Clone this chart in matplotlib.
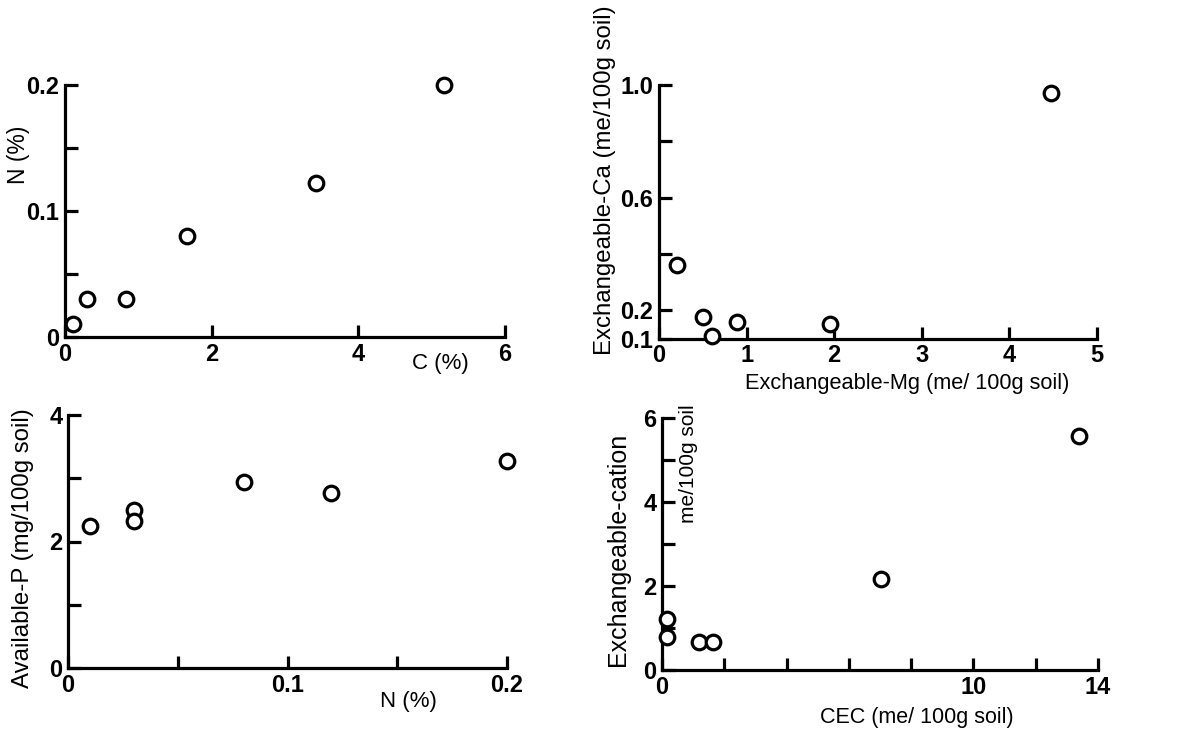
import matplotlib
matplotlib.use("Agg")
import matplotlib.pyplot as plt

plt.rcParams['font.family'] = ['Liberation Sans', 'DejaVu Sans']

# soil samples
c_pct = [0.11, 0.30, 0.83, 1.66, 3.42, 5.17]
n_pct = [0.01, 0.03, 0.03, 0.08, 0.122, 0.20]

exch_mg = [0.21, 0.50, 0.61, 0.89, 1.95, 4.48]
exch_ca = [0.36, 0.177, 0.109, 0.16, 0.151, 0.973]

n_for_p = [0.01, 0.03, 0.03, 0.08, 0.12, 0.20]
avail_p = [2.25, 2.50, 2.33, 2.94, 2.76, 3.27]

cec = [0.16, 0.16, 1.2, 1.63, 7.02, 13.38]
exch_cation = [1.21, 0.79, 0.67, 0.67, 2.16, 5.58]

W, H = 1193, 733
fig = plt.figure(figsize=(W / 100, H / 100), dpi=100)

FS = 17


def rect(left, right, top, bottom):
    return [left / W, 1 - bottom / H, (right - left) / W, (bottom - top) / H]


def label(x, y, s, rot=0, size=FS):
    fig.text(x / W, 1 - y / H, s, rotation=rot, ha='center', va='center', fontsize=size)


def panel(r, x, y, xlim, ylim, xticks, xlabels, yticks, ylabels):
    ax = fig.add_axes(r)
    ax.plot(x, y, 'o', ms=10.5, mfc='white', mec='black', mew=2.3, clip_on=False, zorder=5)
    ax.set_xlim(xlim)
    ax.set_ylim(ylim)
    ax.spines[['top', 'right']].set_visible(False)
    for s in ['left', 'bottom']:
        ax.spines[s].set_linewidth(2.3)
    ax.set_xticks(xticks)
    ax.set_xticklabels(xlabels, fontweight='bold')
    ax.set_yticks(yticks)
    ax.set_yticklabels(ylabels, fontweight='bold')
    ax.tick_params(direction='in', length=9, width=2.3, labelsize=FS, pad=4)
    return ax


panel(rect(65, 505, 85, 337), c_pct, n_pct, (0, 6), (0, 0.2),
      [0, 2, 4, 6], ['0', '2', '4', '6'],
      [0, 0.05, 0.1, 0.15, 0.2], ['0', '', '0.1', '', '0.2'])
label(18, 155, 'N (%)', rot=90, size=16.5)
label(440, 364, 'C (%)', size=16)

panel(rect(659, 1097, 85, 338.5), exch_mg, exch_ca, (0, 5), (0.1, 1.0),
      [0, 1, 2, 3, 4, 5], ['0', '1', '2', '3', '4', '5'],
      [0.1, 0.2, 0.4, 0.6, 0.8, 1.0], ['0.1', '0.2', '', '0.6', '', '1.0'])
label(605, 180, 'Exchangeable-Ca (me/100g soil)', rot=90, size=17.3)
label(907, 383, 'Exchangeable-Mg (me/ 100g soil)', size=15.7)

panel(rect(68, 507, 415, 668), n_for_p, avail_p, (0, 0.2), (0, 4),
      [0, 0.05, 0.1, 0.15, 0.2], ['0', '', '0.1', '', '0.2'],
      [0, 1, 2, 3, 4], ['0', '', '2', '', '4'])
label(23, 548, 'Available-P (mg/100g soil)', rot=90, size=17.3)
label(408, 702, 'N (%)', size=16)

panel(rect(662, 1098, 418, 670), cec, exch_cation, (0, 14), (0, 6),
      [0, 2, 4, 6, 8, 10, 12, 14], ['0', '', '', '', '', '10', '', '14'],
      [0, 1, 2, 3, 4, 5, 6], ['0', '', '2', '', '4', '', '6'])
label(618, 549, 'Exchangeable-cation', rot=90, size=18)
label(688, 464, 'me/100g soil', rot=90, size=15)
label(917, 718, 'CEC (me/ 100g soil)', size=15.5)

fig.savefig('out.png', dpi=100)
